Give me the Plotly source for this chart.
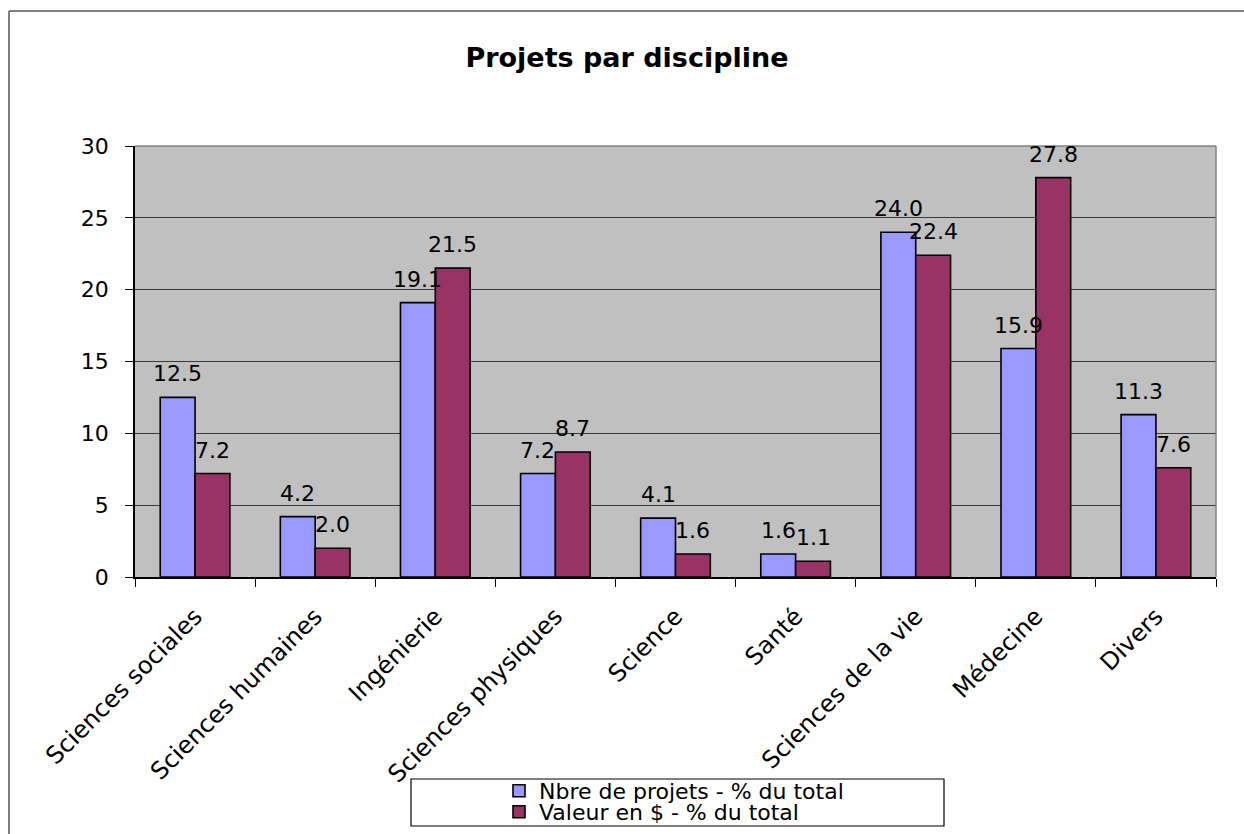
import plotly.graph_objects as go

categories = ["Sciences sociales", "Sciences humaines", "Ingénierie", "Sciences physiques",
              "Science", "Santé", "Sciences de la vie", "Médecine", "Divers"]
nbre_projets = [12.5, 4.2, 19.1, 7.2, 4.1, 1.6, 24.0, 15.9, 11.3]
valeur_dollars = [7.2, 2.0, 21.5, 8.7, 1.6, 1.1, 22.4, 27.8, 7.6]
series_names = ["Nbre de projets - % du total", "Valeur en $ - % du total"]
y_ticks = [0, 5, 10, 15, 20, 25, 30]

FONT = "DejaVu Sans, Liberation Sans, Arial, sans-serif"
FS = 22

W, H = 1244, 834
ML, MR, MT, MB = 135, 28, 146, 257
PW, PH = W - ML - MR, H - MT - MB
BARGAP = 0.42


def px_x(p):
    return (p - ML) / PW


def px_y(p):
    return (H - MB - p) / PH


fig = go.Figure()
colors = ["#9999FF", "#993366"]
series = [nbre_projets, valeur_dollars]
for i, (name, vals) in enumerate(zip(series_names, series)):
    fig.add_trace(go.Bar(
        x=categories, y=vals, name=name,
        marker=dict(color=colors[i], line=dict(color="black", width=1.6)),
        legend="legend" if i == 0 else "legend2",
    ))

# data labels anchored at each bar's value through the axes
bar_w = PW / len(categories) * (1 - BARGAP) / 2
annotations = []
for i, vals in enumerate(series):
    shift = (-0.5 if i == 0 else 0.5) * bar_w
    for c, v in zip(categories, vals):
        annotations.append(dict(
            x=c, y=v, xref="x", yref="y", text=f"{v:.1f}", showarrow=False,
            xanchor="center", yanchor="bottom", xshift=shift, yshift=9,
            font=dict(family=FONT, size=FS, color="black"),
        ))

leg_common = dict(xanchor="left", yanchor="top", bgcolor="rgba(0,0,0,0)", borderwidth=0,
                  font=dict(family=FONT, size=FS, color="black"))

fig.update_layout(
    width=W, height=H,
    margin=dict(l=ML, r=MR, t=MT, b=MB, autoexpand=False),
    paper_bgcolor="white", plot_bgcolor="#C0C0C0",
    barmode="group", bargap=BARGAP, bargroupgap=0,
    font=dict(family=FONT, size=FS, color="black"),
    title=dict(text="<b>Projets par discipline</b>", x=627 / W, xanchor="center",
               y=1 - 58 / H, yanchor="middle",
               font=dict(family=FONT, size=27, color="black")),
    showlegend=True,
    legend=dict(x=px_x(499), y=px_y(770), **leg_common),
    legend2=dict(x=px_x(499), y=px_y(791), **leg_common),
    annotations=annotations,
)

fig.update_xaxes(
    type="category", tickangle=-45, showline=True, linecolor="black", linewidth=1.5,
    ticks="outside", tickson="boundaries", ticklen=8, tickcolor="black",
    tickfont=dict(family=FONT, size=24, color="black"), showgrid=False,
    ticklabelstandoff=14, automargin=False,
)
fig.update_yaxes(
    range=[0, 30], tickvals=y_ticks, showline=True, linecolor="black", linewidth=1.5,
    ticks="outside", ticklen=8, tickcolor="black",
    showgrid=True, gridcolor="#3a3a3a", gridwidth=1, zeroline=False,
    tickfont=dict(family=FONT, size=FS, color="black"),
    ticklabelstandoff=12, automargin=False,
)

shapes = [
    dict(type="line", xref="paper", yref="paper", x0=0, x1=1, y0=1, y1=1,
         line=dict(color="#808080", width=1.5)),
    dict(type="line", xref="paper", yref="paper", x0=1, x1=1, y0=0, y1=1,
         line=dict(color="#808080", width=1.5)),
    dict(type="rect", xref="paper", yref="paper",
         x0=px_x(411), x1=px_x(944), y0=px_y(826), y1=px_y(779),
         line=dict(color="black", width=1.2), fillcolor="white", layer="below"),
    dict(type="line", xref="paper", yref="paper",
         x0=px_x(9), x1=px_x(1260), y0=px_y(11), y1=px_y(11),
         line=dict(color="#555555", width=1.5)),
    dict(type="line", xref="paper", yref="paper",
         x0=px_x(9), x1=px_x(9), y0=px_y(11), y1=px_y(850),
         line=dict(color="#555555", width=1.5)),
]
fig.update_layout(shapes=shapes)

fig.write_html("out.html", config={"displayModeBar": False},
               post_script="document.body.style.margin='0px';")
